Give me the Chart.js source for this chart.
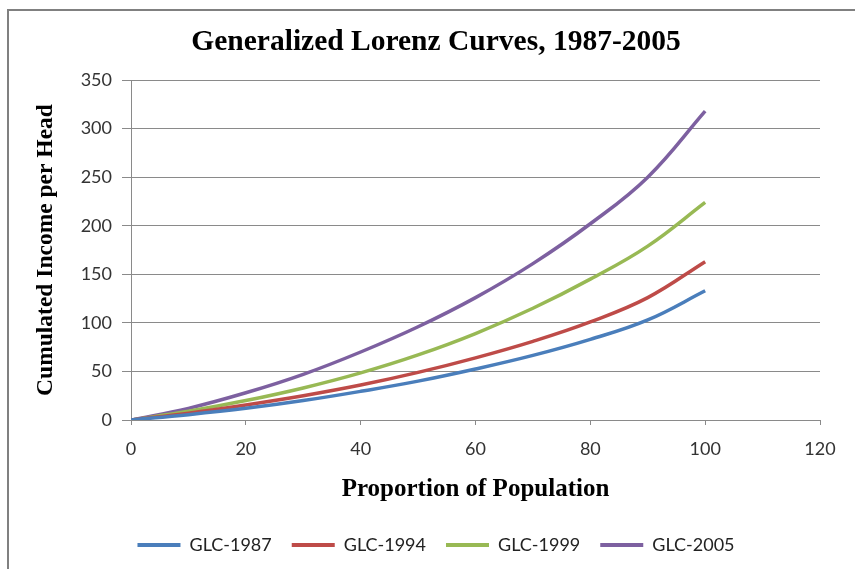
<!DOCTYPE html>
<html><head><meta charset="utf-8">
<script src="https://cdn.jsdelivr.net/npm/chart.js@4"></script>
<style>html,body{margin:0;padding:0;background:#fff}#wrap{width:855px;height:569px;position:relative}</style>
</head><body><div id="wrap"><canvas id="c"></canvas></div>
<script>
const populationShare = [0,10,20,30,40,50,60,70,80,90,100];
const glc1987 = [0,5.5,12,20,29.5,40,52.5,66.5,83,103,133];
const glc1994 = [0,7,15.5,25,36,49,64,81,101,126,163];
const glc1999 = [0,9,20,33,48.5,67,89,115,145,179,224];
const glc2005 = [0,12,28,47,70,96,126,161,202,250,318];
const seriesNames = ['GLC-1987','GLC-1994','GLC-1999','GLC-2005'];
const seriesColors = ['#4A7EBB','#BE4B48','#98B954','#7D60A0'];
const xTicks = [0,20,40,60,80,100,120];
const yTicks = [0,50,100,150,200,250,300,350];

const allSeries = [glc1987, glc1994, glc1999, glc2005];
const datasets = allSeries.map((vals, i) => ({
  label: seriesNames[i],
  data: vals.map((v, j) => ({x: populationShare[j], y: v})),
  borderColor: seriesColors[i],
  backgroundColor: seriesColors[i],
  borderWidth: 3.5,
  pointRadius: 0,
  tension: 0.4,
  fill: false,
  yAxisID: 'y'
}));

const framePlugin = {
  id: 'frame',
  beforeDraw(chart) {
    const ctx = chart.ctx;
    ctx.save();
    ctx.fillStyle = '#fff';
    ctx.fillRect(0, 0, chart.width, chart.height);
    ctx.strokeStyle = '#808080';
    ctx.lineWidth = 2;
    ctx.beginPath();
    ctx.moveTo(8, 569);
    ctx.lineTo(8, 10);
    ctx.lineTo(855, 10);
    ctx.stroke();
    ctx.restore();
  }
};

const gridColor = '#8a8a8a';
const tickFont = {family: 'Lato, "Liberation Sans", sans-serif', size: 18};

new Chart(document.getElementById('c'), {
  type: 'line',
  data: {datasets},
  plugins: [framePlugin],
  options: {
    responsive: true,
    maintainAspectRatio: false,
    animation: false,
    layout: {padding: {left: 17, right: 0, top: 0, bottom: 5}},
    plugins: {
      title: {
        display: true,
        text: 'Generalized Lorenz Curves, 1987-2005',
        color: '#000',
        font: {family: '"Liberation Serif", "DejaVu Serif", serif', size: 29.5, weight: 'bold', lineHeight: 1.2},
        padding: {top: 24.5, bottom: 20.1}
      },
      legend: {
        position: 'bottom',
        labels: {
          font: {family: 'Lato, "Liberation Sans", sans-serif', size: 18},
          color: '#222',
          boxWidth: 43,
          boxHeight: 4,
          padding: 20,
          generateLabels(chart) {
            return chart.data.datasets.map((ds, i) => ({
              text: ds.label,
              fillStyle: ds.borderColor,
              strokeStyle: ds.borderColor,
              lineWidth: 0,
              fontColor: '#222',
              hidden: false,
              datasetIndex: i
            }));
          }
        }
      },
      tooltip: {enabled: false}
    },
    scales: {
      x: {
        type: 'linear',
        min: xTicks[0],
        max: xTicks[xTicks.length - 1],
        afterBuildTicks(scale) { scale.ticks = xTicks.map(v => ({value: v})); },
        afterFit(scale) { scale.height = 96; },
        ticks: {color: '#333', font: tickFont, padding: 13, maxRotation: 0},
        grid: {drawOnChartArea: false, drawTicks: true, tickLength: 5, color: gridColor},
        border: {color: gridColor, width: 1},
        title: {
          display: true,
          text: 'Proportion of Population',
          color: '#000',
          font: {family: '"Liberation Serif", "DejaVu Serif", serif', size: 25, weight: 'bold', lineHeight: 1.2},
          padding: {top: 0, bottom: 11}
        }
      },
      y: {
        type: 'linear',
        position: 'left',
        min: yTicks[0],
        max: yTicks[yTicks.length - 1],
        afterBuildTicks(scale) { scale.ticks = yTicks.map(v => ({value: v})); },
        afterFit(scale) { scale.width = 114; },
        ticks: {color: '#333', font: tickFont, padding: 10},
        grid: {color: gridColor, tickLength: 9},
        border: {color: gridColor, width: 1},
        title: {
          display: true,
          text: 'Cumulated Income per Head',
          color: '#000',
          font: {family: '"Liberation Serif", "DejaVu Serif", serif', size: 23.5, weight: 'bold', lineHeight: 1.2},
          padding: {top: 15, bottom: 0}
        }
      },
      yRight: {
        type: 'linear',
        position: 'right',
        display: true,
        ticks: {display: false},
        grid: {display: false, drawTicks: false},
        border: {display: false},
        afterFit(scale) { scale.width = 35; }
      }
    }
  }
});
</script>
</body></html>
